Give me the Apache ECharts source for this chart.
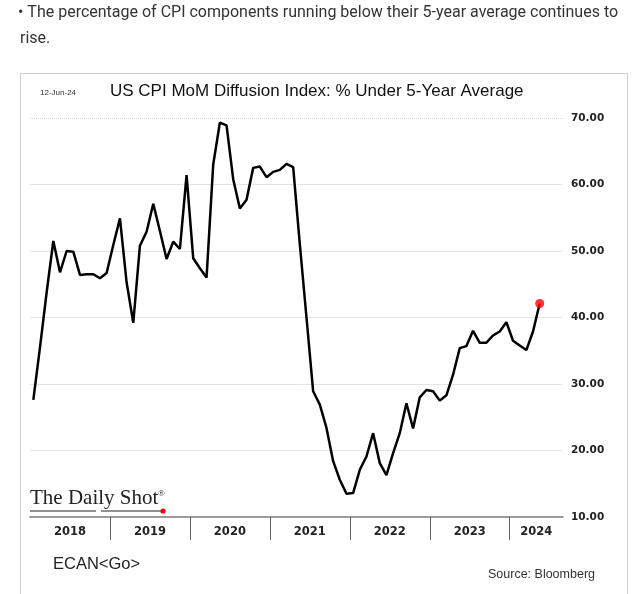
<!DOCTYPE html>
<html>
<head>
<meta charset="utf-8">
<script src="https://cdn.jsdelivr.net/npm/echarts@6/dist/echarts.min.js"></script>
<style>
html,body{margin:0;padding:0;background:#fff;}
#chart{width:640px;height:594px;}
</style>
</head>
<body>
<div id="chart"></div>
<script>
// Monthly data, Jan 2018 .. May 2024 (axis runs through Aug 2024)
const startYear = 2018;
const axisMonths = 80;
const yearLabels = ['2018', '2019', '2020', '2021', '2022', '2023', '2024'];
const yTicks = [10, 20, 30, 40, 50, 60, 70];
const values = [
  27.6, 35.5, 43.8, 51.5, 46.8, 50.0, 49.9, 46.4, 46.5, 46.5, 45.9, 46.7,
  50.9, 54.9, 45.3, 39.2, 50.8, 52.9, 57.1, 53.0, 48.8, 51.4, 50.3, 61.4,
  48.9, 47.4, 46.0, 63.0, 69.3, 68.9, 60.8, 56.4, 57.7, 62.5, 62.7, 61.1,
  61.9, 62.2, 63.1, 62.6, 51.0, 40.0, 28.9, 26.9, 23.4, 18.4, 15.6, 13.5,
  13.6, 17.1, 19.1, 22.6, 18.1, 16.3, 19.6, 22.6, 27.1, 23.3, 28.0, 29.1,
  28.9, 27.5, 28.3, 31.4, 35.4, 35.7, 38.0, 36.2, 36.2, 37.3, 37.9, 39.3,
  36.5, 35.8, 35.1, 37.9, 42.1
];

const lineData = values.map((v, i) => [i, v]);
const lastPoint = [[values.length - 1, values[values.length - 1]]];
// year boundary ticks and year label positions (centre of each year's visible span)
const tickPos = yearLabels.slice(1).map((y, k) => (k + 1) * 12 - 0.5);
const labelPos = yearLabels.map((y, k) => {
  const a = k * 12 - 0.5;
  const b = Math.min((k + 1) * 12 - 0.5, axisMonths - 0.5);
  return (a + b) / 2;
});

const chart = echarts.init(document.getElementById('chart'), null, {renderer: 'canvas'});
const splitColors = yTicks.map((t, i) => (i === 0 || i === yTicks.length - 1) ? 'rgba(0,0,0,0)' : '#e4e4e4');

chart.setOption({
  animation: false,
  backgroundColor: '#fff',
  grid: {left: 30, right: 77, top: 118, bottom: 77, containLabel: false},
  xAxis: {
    type: 'value',
    min: -0.5,
    max: axisMonths - 0.5,
    axisLine: {show: true, lineStyle: {color: '#7a7a7a', width: 1.5}},
    axisTick: {show: true, customValues: tickPos, length: 23, lineStyle: {color: '#666', width: 1}},
    axisLabel: {
      show: true,
      customValues: labelPos,
      formatter: v => yearLabels[Math.floor((v + 0.5) / 12)],
      color: '#222', fontFamily: 'DejaVu Sans', fontWeight: 'bold', fontSize: 11.5, margin: 9
    },
    splitLine: {show: false}
  },
  yAxis: {
    type: 'value',
    position: 'right',
    min: 10, max: 70, interval: 10,
    axisLine: {show: false},
    axisTick: {show: false},
    axisLabel: {
      formatter: v => v.toFixed(2),
      color: '#222', fontFamily: 'DejaVu Sans', fontWeight: 'bold', fontSize: 10.5, margin: 8
    },
    splitLine: {show: true, lineStyle: {color: splitColors, width: 1}}
  },
  series: [
    {
      type: 'line',
      data: lineData,
      symbol: 'none',
      lineStyle: {color: '#000', width: 2.5},
      z: 3,
      markLine: {
        silent: true,
        symbol: 'none',
        label: {show: false},
        lineStyle: {color: '#d6d6d6', type: 'dotted', width: 1},
        data: [{yAxis: yTicks[yTicks.length - 1]}],
        z: 1
      }
    },
    {
      type: 'scatter',
      data: lastPoint,
      symbol: 'circle',
      symbolSize: 9,
      itemStyle: {color: '#ff0000'},
      z: 4
    }
  ],
  graphic: [
    {type: 'rect', shape: {x: 20.5, y: 73.5, width: 607, height: 540},
     style: {fill: 'none', stroke: '#cfcfcf', lineWidth: 1}},
    {type: 'text', left: 18, top: 5,
     style: {text: '\u2022 The percentage of CPI components running below their 5-year average continues to', fill: '#333', font: '16px Roboto'}},
    {type: 'text', left: 20, top: 31,
     style: {text: 'rise.', fill: '#333', font: '16px Roboto'}},
    {type: 'text', left: 40, top: 89,
     style: {text: '12-Jun-24', fill: '#333', font: '8px "Liberation Sans"'}},
    {type: 'text', left: 110, top: 83,
     style: {text: 'US CPI MoM Diffusion Index: % Under 5-Year Average', fill: '#111', font: '17px "Liberation Sans"'}},
    {type: 'text', left: 30, top: 488,
     style: {text: 'The Daily Shot', fill: '#222', font: '21px "Liberation Serif"'}},
    {type: 'text', left: 158, top: 489,
     style: {text: '\u00ae', fill: '#222', font: '9px "Liberation Serif"'}},
    {type: 'line', shape: {x1: 30, y1: 511, x2: 96, y2: 511}, style: {stroke: '#222', lineWidth: 1.2}},
    {type: 'line', shape: {x1: 101, y1: 511, x2: 162, y2: 511}, style: {stroke: '#222', lineWidth: 1.2}},
    {type: 'circle', shape: {cx: 163, cy: 511, r: 2.6}, style: {fill: '#ff0000'}},
    {type: 'text', left: 53, top: 556,
     style: {text: 'ECAN<Go>', fill: '#222', font: '16.5px "Liberation Sans"'}},
    {type: 'text', left: 488, top: 568,
     style: {text: 'Source: Bloomberg', fill: '#333', font: '12.5px "Liberation Sans"'}}
  ]
});
</script>
</body>
</html>
